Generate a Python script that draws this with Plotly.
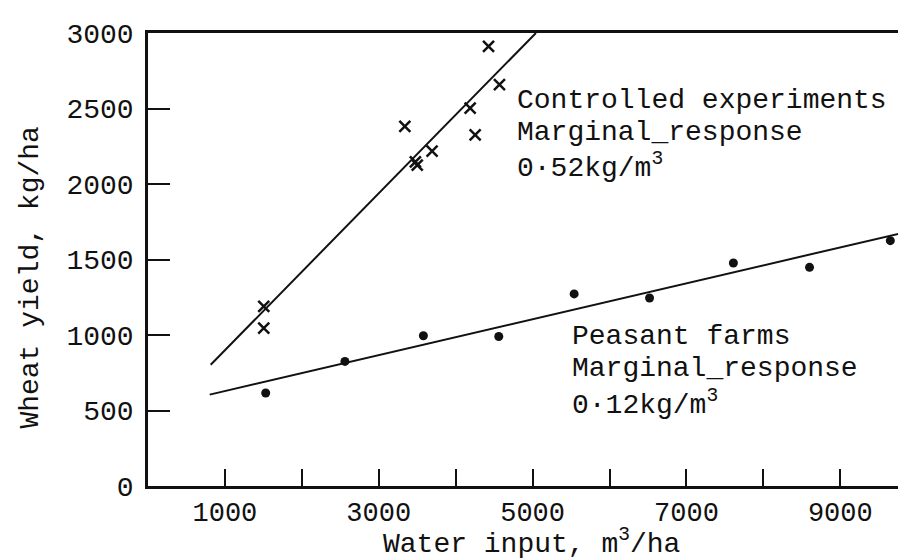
import plotly.graph_objects as go

# ---- data ----
ctrl_x = [4427, 4569, 4188, 3339, 4253, 3693, 3476, 3500, 1505, 1505]
ctrl_y = [2912, 2658, 2503, 2382, 2326, 2217, 2146, 2125, 1190, 1046]

peas_x = [1530, 2560, 3580, 4560, 5540, 6520, 7610, 8600, 9650]
peas_y = [616, 825, 995, 990, 1272, 1245, 1477, 1448, 1625]

ctrl_line_x = [815, 5043]
ctrl_line_y = [803, 3000]
peas_line_x = [802, 9880]
peas_line_y = [605, 1685]

x_tickvals = [1000, 3000, 5000, 7000, 9000]
x_ticktext = ["1000", "3000", "5000", "7000", "9000"]
x_minorvals = [2000, 4000, 6000, 8000]
y_tickvals = [0, 500, 1000, 1500, 2000, 2500, 3000]
y_ticktext = ["0", "500", "1000", "1500", "2000", "2500", "3000"]

ctrl_label = ["Controlled experiments", "Marginal_response", "0·52kg/m<sup>3</sup>"]
ctrl_label_x = 4767
ctrl_label_y = [2556, 2338, 2119]
peas_label = ["Peasant farms", "Marginal_response", "0·12kg/m<sup>3</sup>"]
peas_label_x = 5482
peas_label_y = [993, 775, 552]

FONT = "Liberation Mono"
FS = 28
INK = "#111111"

fig = go.Figure()
fig.add_trace(go.Scatter(x=ctrl_line_x, y=ctrl_line_y, mode="lines",
                         line=dict(color=INK, width=2), showlegend=False, hoverinfo="skip"))
fig.add_trace(go.Scatter(x=peas_line_x, y=peas_line_y, mode="lines",
                         line=dict(color=INK, width=2), showlegend=False, hoverinfo="skip"))
fig.add_trace(go.Scatter(x=ctrl_x, y=ctrl_y, mode="markers", name="Controlled experiments",
                         marker=dict(symbol="x-thin", size=11, line=dict(color=INK, width=2.5)),
                         showlegend=False))
fig.add_trace(go.Scatter(x=peas_x, y=peas_y, mode="markers", name="Peasant farms",
                         marker=dict(symbol="circle", size=9, color=INK),
                         showlegend=False))

annotations = []
for txt, yy in zip(ctrl_label, ctrl_label_y):
    annotations.append(dict(x=ctrl_label_x, y=yy, xref="x", yref="y", text=txt,
                            showarrow=False, xanchor="left", yanchor="middle",
                            font=dict(family=FONT, size=FS, color=INK)))
for txt, yy in zip(peas_label, peas_label_y):
    annotations.append(dict(x=peas_label_x, y=yy, xref="x", yref="y", text=txt,
                            showarrow=False, xanchor="left", yanchor="middle",
                            font=dict(family=FONT, size=FS, color=INK)))
# axis titles
annotations.append(dict(x=0.5046, y=0, xref="paper", yref="paper", yshift=-56,
                        text="Water input, m<sup>3</sup>/ha", showarrow=False,
                        xanchor="center", yanchor="middle", borderpad=0,
                        font=dict(family=FONT, size=FS, color=INK)))
annotations.append(dict(x=-0.1547, y=0.461, xref="paper", yref="paper",
                        text="Wheat yield, kg/ha", showarrow=False, textangle=-90,
                        xanchor="center", yanchor="middle",
                        font=dict(family=FONT, size=FS, color=INK)))

fig.update_layout(
    width=906, height=559,
    margin=dict(l=140, r=3, t=25, b=81),
    paper_bgcolor="white", plot_bgcolor="white",
    annotations=annotations,
    xaxis=dict(range=[0, 9880], tickvals=x_tickvals, ticktext=x_ticktext,
               ticks="inside", ticklen=17, tickwidth=2, tickcolor=INK,
               minor=dict(tickvals=x_minorvals, ticks="inside", ticklen=17,
                          tickwidth=2, tickcolor=INK, showgrid=False),
               showline=True, linecolor=INK, linewidth=2.5, mirror=True,
               showgrid=False, zeroline=False, ticklabelstandoff=0,
               tickfont=dict(family=FONT, size=27, color=INK)),
    yaxis=dict(range=[0, 3000], tickvals=y_tickvals, ticktext=y_ticktext,
               ticks="inside", ticklen=22, tickwidth=2, tickcolor=INK,
               showline=True, linecolor=INK, linewidth=2.5, mirror=True,
               showgrid=False, zeroline=False, ticklabelstandoff=6,
               tickfont=dict(family=FONT, size=FS, color=INK)),
)

fig.write_html("out.html")
